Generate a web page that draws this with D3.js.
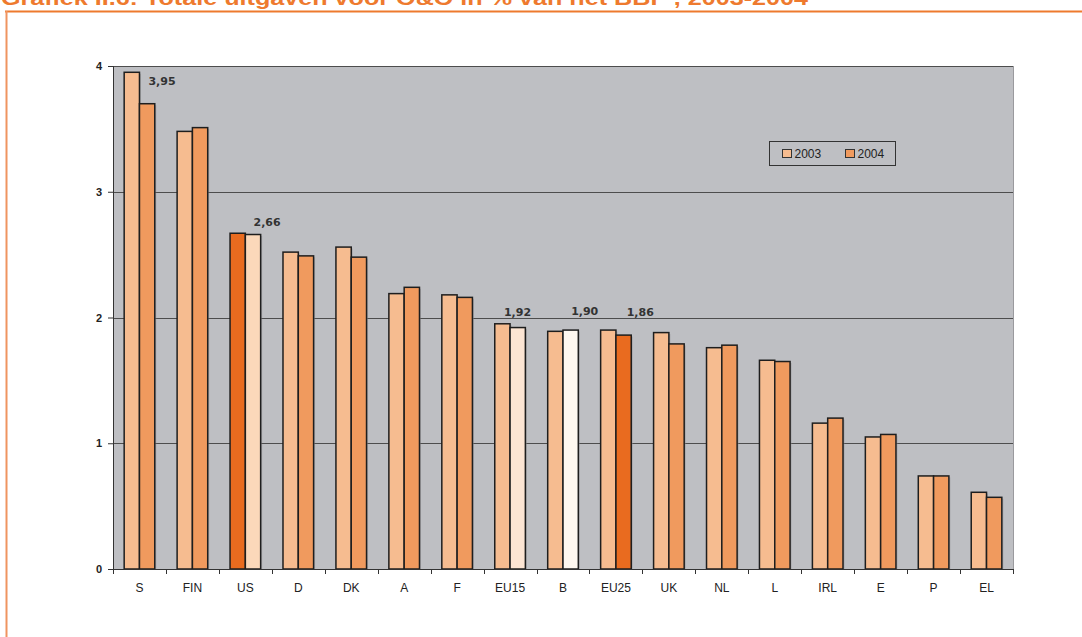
<!DOCTYPE html>
<html>
<head>
<meta charset="utf-8">
<script src="https://cdn.jsdelivr.net/npm/d3@7"></script>
<style>
  html, body { margin: 0; padding: 0; background: #ffffff; }
  svg { display: block; }
</style>
</head>
<body>
<svg id="chart" width="1082" height="637"></svg>
<script>
// ---- data ----
const categories = ["S","FIN","US","D","DK","A","F","EU15","B","EU25","UK","NL","L","IRL","E","P","EL"];
const series = ["2003","2004"];
const values2003 = [3.95,3.48,2.67,2.52,2.56,2.19,2.18,1.95,1.89,1.90,1.88,1.76,1.66,1.16,1.05,0.74,0.61];
const values2004 = [3.70,3.51,2.66,2.49,2.48,2.24,2.16,1.92,1.90,1.86,1.79,1.78,1.65,1.20,1.07,0.74,0.57];
const yTicks = [0,1,2,3,4];
const titleText = "Grafiek II.6: Totale uitgaven voor O&O in % van het BBP , 2003-2004";
// data labels: category, text, anchor in data space (band fraction, value)
const labelCats = ["S","US","EU15","B","EU25"];
const labelTexts = ["3,95","2,66","1,92","1,90","1,86"];
const labelBandPos = [0.925, 0.91, 0.64, 0.91, 0.96];
const labelValuePos = [3.88, 2.76, 2.04, 2.05, 2.04];

// ---- styles ----
const baseFill = {"2003": "#F6BC90", "2004": "#F09A5E"};
const specialFill = {
  "US|2003": "#E96B1F",
  "US|2004": "#FBD8BA",
  "EU15|2004": "#FDE5D3",
  "B|2004": "#FEF8F0",
  "EU25|2004": "#E96B1F"
};
const orange = "#EE7A2E";

const svg = d3.select("#chart");

// frame + title
svg.append("text")
  .attr("x", 1).attr("y", 5)
  .attr("font-family", "Liberation Sans, Arial, sans-serif")
  .attr("font-weight", "bold")
  .attr("font-size", 20)
  .attr("fill", orange)
  .attr("textLength", 807)
  .attr("lengthAdjust", "spacingAndGlyphs")
  .text(titleText);
svg.append("line").attr("x1", 5).attr("x2", 1082).attr("y1", 11.5).attr("y2", 11.5)
  .attr("stroke", orange).attr("stroke-width", 2);
svg.append("line").attr("x1", 6.5).attr("x2", 6.5).attr("y1", 11).attr("y2", 637)
  .attr("stroke", "#EF9460").attr("stroke-width", 2);

// scales
const plot = {left: 113, right: 1013, top: 66, bottom: 569};
const x = d3.scaleBand().domain(categories).range([plot.left, plot.right]).paddingInner(0).paddingOuter(0);
const x1 = d3.scaleBand().domain(series).range([0, x.bandwidth()]).paddingInner(0).paddingOuter(0.73);
const y = d3.scaleLinear().domain([0, 4]).range([plot.bottom, plot.top]);

// plot background
svg.append("rect")
  .attr("x", plot.left).attr("y", plot.top)
  .attr("width", plot.right - plot.left).attr("height", plot.bottom - plot.top)
  .attr("fill", "#BEBFC3");
// right border
svg.append("line").attr("x1", plot.right + 0.5).attr("x2", plot.right + 0.5)
  .attr("y1", plot.top).attr("y2", plot.bottom).attr("stroke", "#9A9A9E").attr("stroke-width", 1);

// gridlines
svg.append("g").selectAll("line").data(yTicks.filter(t => t > 0)).join("line")
  .attr("x1", plot.left).attr("x2", plot.right)
  .attr("y1", d => Math.round(y(d)) + 0.5).attr("y2", d => Math.round(y(d)) + 0.5)
  .attr("stroke", "#4d4d4d").attr("stroke-width", 1);

// bars
const rows = categories.map((c, i) => ({cat: c, vals: [values2003[i], values2004[i]]}));
const groups = svg.append("g").selectAll("g").data(rows).join("g")
  .attr("transform", d => `translate(${x(d.cat)},0)`);
// shadows
groups.selectAll("rect.sh").data(d => series.map((s, j) => ({cat: d.cat, s, v: d.vals[j]}))).join("rect")
  .attr("class", "sh")
  .attr("x", d => x1(d.s) + 1.5).attr("y", d => y(d.v) + 1.5)
  .attr("width", x1.bandwidth()).attr("height", d => y(0) - y(d.v) - 1.5)
  .attr("fill", "#8f8f93").attr("opacity", 0.5);
groups.selectAll("rect.bar").data(d => series.map((s, j) => ({cat: d.cat, s, v: d.vals[j]}))).join("rect")
  .attr("class", "bar")
  .attr("x", d => x1(d.s)).attr("y", d => y(d.v))
  .attr("width", x1.bandwidth()).attr("height", d => y(0) - y(d.v))
  .attr("fill", d => specialFill[d.cat + "|" + d.s] || baseFill[d.s])
  .attr("stroke", "#1e1e1e").attr("stroke-width", 1.5);

// y axis
const yAxis = d3.axisLeft(y).tickValues(yTicks).tickSize(5).tickPadding(6).tickFormat(d3.format("d"));
const gy = svg.append("g").attr("transform", `translate(${plot.left},0)`).call(yAxis);
gy.select(".domain").attr("stroke", "#333");
gy.selectAll(".tick line").attr("stroke", "#333");
gy.selectAll(".tick text")
  .attr("font-family", "Liberation Sans, Arial, sans-serif")
  .attr("font-weight", "bold").attr("font-size", 11).attr("fill", "#222");

// x axis
const xAxis = d3.axisBottom(x).tickSize(0).tickPadding(14);
const gx = svg.append("g").attr("transform", `translate(0,${plot.bottom})`).call(xAxis);
gx.select(".domain").attr("stroke", "#333");
gx.selectAll(".tick text")
  .attr("font-family", "Liberation Sans, Arial, sans-serif")
  .attr("font-size", 12).attr("fill", "#222");
// boundary ticks
const bounds = categories.map(c => x(c)).concat([x(categories[categories.length - 1]) + x.bandwidth()]);
svg.append("g").selectAll("line").data(bounds).join("line")
  .attr("x1", d => Math.round(d) + 0.5).attr("x2", d => Math.round(d) + 0.5)
  .attr("y1", plot.bottom).attr("y2", plot.bottom + 5)
  .attr("stroke", "#333").attr("stroke-width", 1);

// data labels
svg.append("g").selectAll("text").data(labelCats).join("text")
  .attr("x", (c, i) => x(c) + labelBandPos[i] * x.bandwidth())
  .attr("y", (c, i) => y(labelValuePos[i]))
  .attr("dy", "0.35em")
  .attr("text-anchor", "middle")
  .attr("font-family", "DejaVu Sans, Verdana, sans-serif")
  .attr("font-weight", "bold").attr("font-size", 11).attr("fill", "#333")
  .text((c, i) => labelTexts[i]);

// legend
const legend = svg.append("g").attr("transform", "translate(769.5,141.5)");
legend.append("rect").attr("width", 126).attr("height", 24)
  .attr("fill", "none").attr("stroke", "#333").attr("stroke-width", 1);
const li = legend.selectAll("g").data(series).join("g")
  .attr("transform", (d, i) => `translate(${13 + i * 63},8)`);
li.append("rect").attr("width", 9).attr("height", 8)
  .attr("fill", d => baseFill[d]).attr("stroke", "#333").attr("stroke-width", 1);
li.append("text").attr("x", 12).attr("y", 4).attr("dy", "0.36em")
  .attr("font-family", "Liberation Sans, Arial, sans-serif")
  .attr("font-size", 12).attr("fill", "#222")
  .text(d => d);
</script>
</body>
</html>
